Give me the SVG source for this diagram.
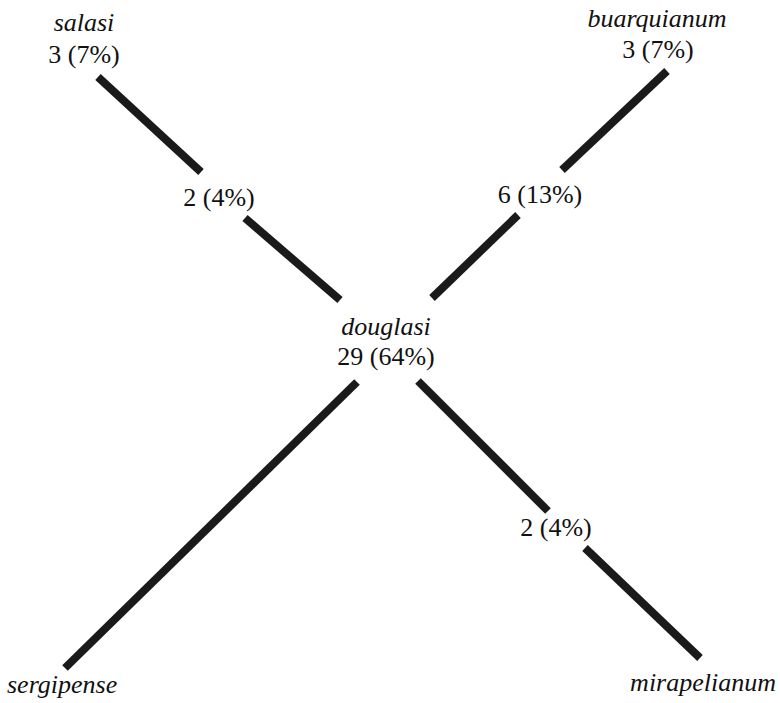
<svg xmlns="http://www.w3.org/2000/svg" width="780" height="703" viewBox="0 0 780 703">
<style>
.t{font-family:"Liberation Serif","Times New Roman",serif;font-size:26px;fill:#111111;text-anchor:middle}
.i{font-style:italic}
.e{stroke:#1a1a1a;stroke-width:8;stroke-linecap:butt;fill:none}
</style>
<rect width="780" height="703" fill="#ffffff"/>
<g id="connectors">
<line class="e" x1="98" y1="77" x2="201" y2="172"/>
<line class="e" x1="245" y1="218" x2="340" y2="300"/>
<line class="e" x1="667" y1="71" x2="562" y2="170"/>
<line class="e" x1="518" y1="215" x2="432" y2="298"/>
<line class="e" x1="357" y1="382" x2="65" y2="668"/>
<line class="e" x1="418" y1="381" x2="548" y2="511"/>
<line class="e" x1="585" y1="548" x2="700" y2="658"/>
</g>
<g id="salasi"><text class="t i" x="84" y="31">salasi</text><text class="t" x="84" y="63">3 (7%)</text></g>
<g id="buarquianum"><text class="t i" x="657" y="27">buarquianum</text><text class="t" x="658" y="58">3 (7%)</text></g>
<g id="n-salasi-link"><text class="t" x="219" y="206">2 (4%)</text></g>
<g id="n-buarq-link"><text class="t" x="540" y="203">6 (13%)</text></g>
<g id="douglasi"><text class="t i" x="386" y="335">douglasi</text><text class="t" x="386" y="365">29 (64%)</text></g>
<g id="n-mirap-link"><text class="t" x="556" y="536">2 (4%)</text></g>
<g id="sergipense"><text class="t i" x="7" y="693" style="text-anchor:start">sergipense</text></g>
<g id="mirapelianum"><text class="t i" x="776" y="691" style="text-anchor:end">mirapelianum</text></g>
</svg>
